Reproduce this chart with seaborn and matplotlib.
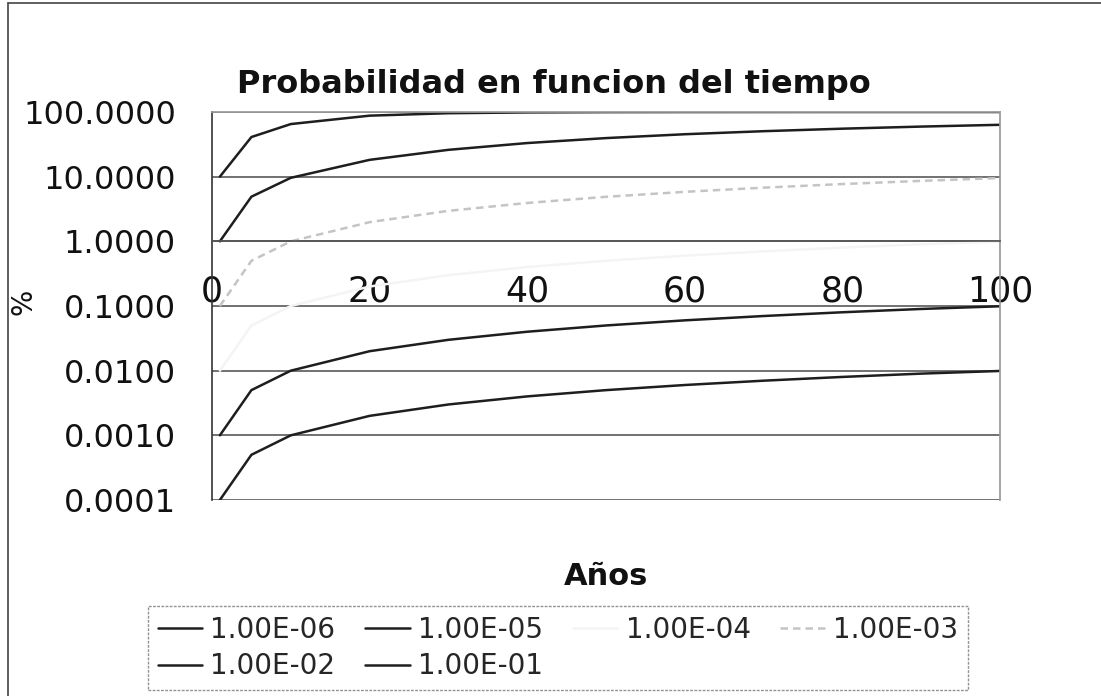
import numpy as np
import pandas as pd
import matplotlib
matplotlib.use("Agg")
import matplotlib.pyplot as plt
import seaborn as sns
from matplotlib.ticker import FixedLocator, FixedFormatter
from matplotlib.lines import Line2D

# Años (eje x)
years = [1, 5, 10, 20, 30, 40, 50, 60, 70, 80, 90, 100]

# probabilidad acumulada (%), una serie por tasa anual
p_e06 = [0.0001, 0.0005, 0.001, 0.002, 0.003, 0.004, 0.005, 0.006, 0.007, 0.008, 0.009, 0.0099]
p_e05 = [0.001, 0.005, 0.010, 0.020, 0.030, 0.040, 0.050, 0.060, 0.070, 0.080, 0.090, 0.099]
p_e04 = [0.01, 0.05, 0.10, 0.20, 0.30, 0.40, 0.50, 0.60, 0.70, 0.80, 0.90, 0.99]
p_e03 = [0.10, 0.50, 1.00, 1.98, 2.96, 3.92, 4.88, 5.83, 6.76, 7.69, 8.61, 9.52]
p_e02 = [1.0, 4.9, 9.6, 18.2, 26.0, 33.1, 39.5, 45.3, 50.5, 55.2, 59.5, 63.4]
p_e01 = [10.0, 41.0, 65.1, 87.8, 95.8, 98.5, 99.5, 99.8, 99.9, 99.98, 99.99, 99.99]

series_labels = ["1.00E-06", "1.00E-05", "1.00E-04", "1.00E-03", "1.00E-02", "1.00E-01"]
series_values = [p_e06, p_e05, p_e04, p_e03, p_e02, p_e01]
series_colors = ["#1e1e1e", "#1e1e1e", "#f4f4f4", "#c4c4c4", "#1e1e1e", "#1e1e1e"]

y_ticks = [0.0001, 0.001, 0.01, 0.1, 1, 10, 100]
y_ticklabels = ["0.0001", "0.0010", "0.0100", "0.1000", "1.0000", "10.0000", "100.0000"]
x_ticks = [0, 20, 40, 60, 80, 100]

sns.set_theme(style="white")
plt.rcParams["font.family"] = ["DejaVu Sans"]

fig = plt.figure(figsize=(11.01, 6.96), dpi=100)
ax = fig.add_axes([212 / 1101, 1 - 500 / 696, 788 / 1101, 388 / 696])

for lab, vals, col in zip(series_labels, series_values, series_colors):
    df = pd.DataFrame({"Años": years, "pct": vals})
    ls = (0, (3, 2)) if lab == "1.00E-03" else "-"
    sns.lineplot(data=df, x="Años", y="pct", color=col, linewidth=1.8,
                 linestyle=ls, label=lab, ax=ax)

ax.set_yscale("log")
ax.set_ylim(0.0001, 100)
ax.set_xlim(0, 100)
ax.yaxis.set_major_locator(FixedLocator(y_ticks))
ax.yaxis.set_major_formatter(FixedFormatter(y_ticklabels))
ax.yaxis.set_minor_locator(FixedLocator([]))
ax.set_xticks(x_ticks)
ax.grid(axis="y", color="#4a4a4a", linewidth=1.1)
ax.grid(axis="x", visible=False)

# eje x cruza en 1.0
ax.spines["bottom"].set_position(("data", 1.0))
ax.spines["bottom"].set_color("#555555")
ax.spines["left"].set_color("#333333")
ax.spines["left"].set_linewidth(1.2)
for s in ["top", "right"]:
    ax.spines[s].set_color("#999999")
    ax.spines[s].set_linestyle((0, (2, 1)))
ax.tick_params(axis="y", which="major", direction="out", length=6, width=1,
               color="#333333", labelsize=23, pad=20, labelcolor="#111111")
ax.tick_params(axis="x", which="major", direction="out", length=4, width=1,
               color="#888888", labelsize=25, pad=20, labelcolor="#111111")

ax.set_xlabel("Años", fontsize=22, fontweight="bold", color="#111111")
ax.xaxis.set_label_coords(0.5, -0.16)
ax.set_ylabel("%", fontsize=20, color="#111111")
ax.yaxis.set_label_coords(-0.222, 0.51)

fig.suptitle("Probabilidad en funcion del tiempo", x=0.503, y=1 - 85 / 696,
             va="center", fontsize=23, fontweight="bold", color="#111111")

handles, labels = ax.get_legend_handles_labels()
ax.get_legend().remove()
order = [0, 4, 1, 5, 2, 3]
leg = fig.legend([handles[i] for i in order], [labels[i] for i in order],
                 loc="lower left", bbox_to_anchor=(148 / 1101, 6 / 696, 820 / 1101, 90 / 696),
                 mode="expand", ncol=4, fontsize=20, frameon=True, fancybox=False,
                 handlelength=1.6, handletextpad=0.3, borderpad=0.35, labelspacing=0.3,
                 columnspacing=0.5, borderaxespad=0)
leg.get_frame().set_edgecolor("#777777")
leg.get_frame().set_linestyle((0, (2, 1)))
leg.get_frame().set_linewidth(1)

# borde exterior del grafico
fig.add_artist(Line2D([8 / 1101, 8 / 1101], [0, 1 - 3 / 696], transform=fig.transFigure,
                      color="#444444", linewidth=1.2))
fig.add_artist(Line2D([8 / 1101, 1], [1 - 3 / 696, 1 - 3 / 696], transform=fig.transFigure,
                      color="#444444", linewidth=1.2))

fig.savefig("out.png", dpi=100)
